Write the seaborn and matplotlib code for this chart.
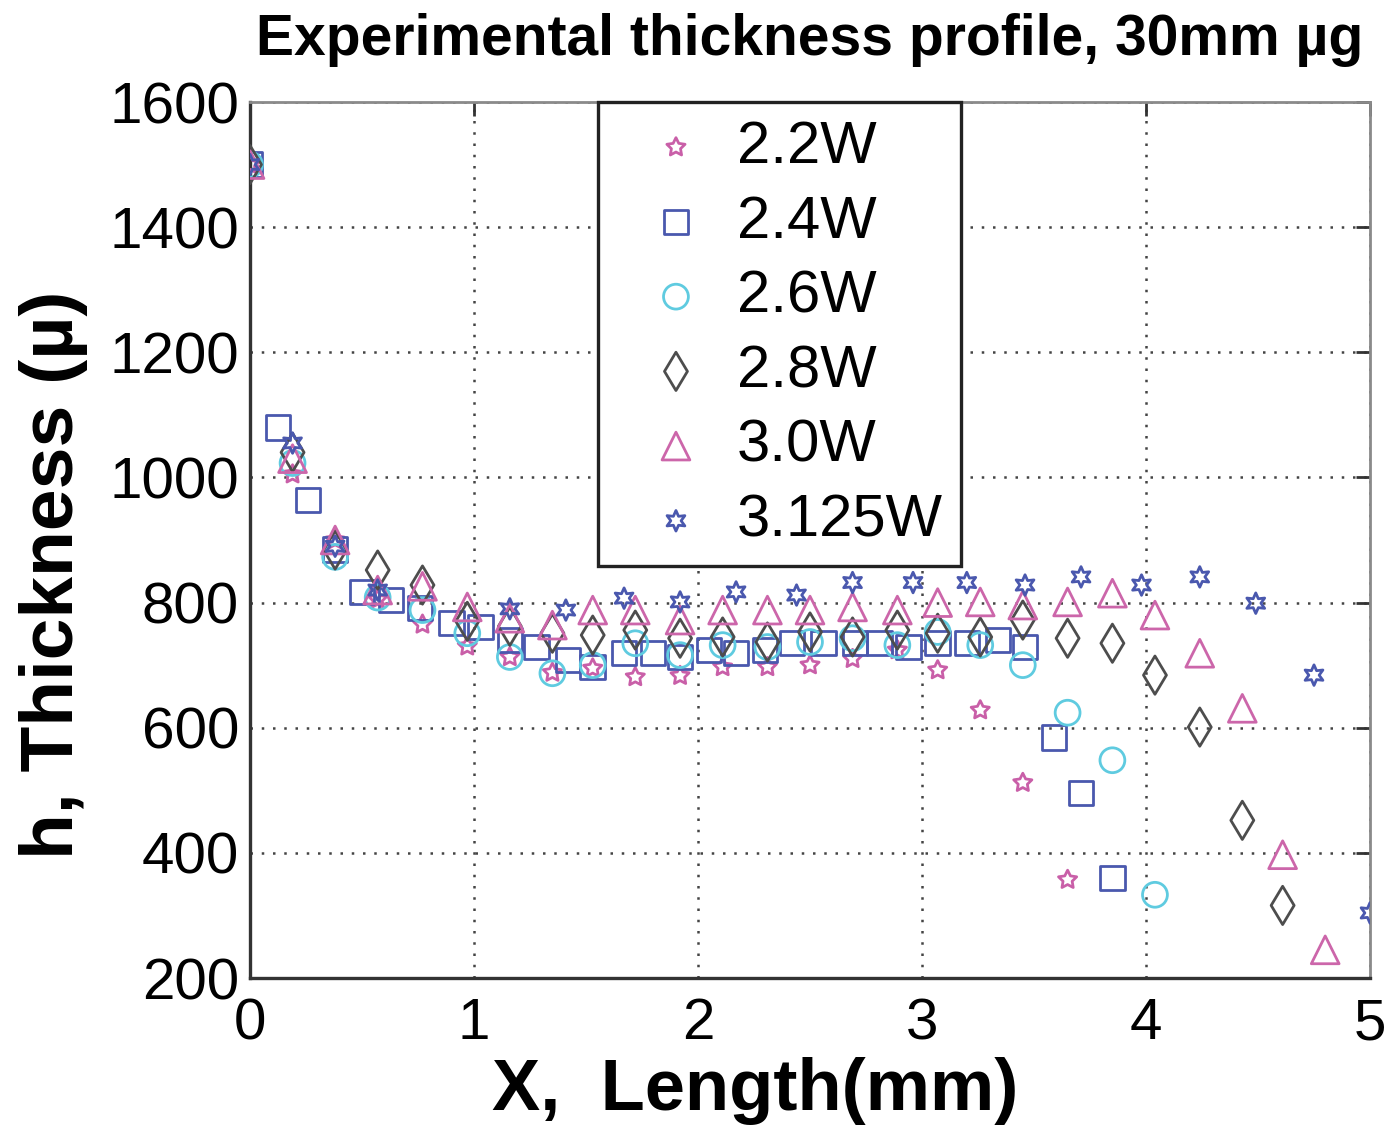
import numpy as np
import pandas as pd
import matplotlib
matplotlib.use("Agg")
import matplotlib.pyplot as plt
import seaborn as sns

# ---------------- data ----------------
series_names = ["2.2W", "2.4W", "2.6W", "2.8W", "3.0W", "3.125W"]

x_22 = [0.00, 0.19, 0.38, 0.57, 0.77, 0.97, 1.16, 1.35, 1.53, 1.72, 1.92, 2.11,
        2.31, 2.50, 2.69, 2.89, 3.07, 3.26, 3.45, 3.65]
h_22 = [1500, 1005, 900, 805, 765, 730, 713, 688, 695, 681, 683, 697,
        697, 700, 710, 724, 692, 628, 512, 357]

x_24 = [0.00, 0.125, 0.26, 0.38, 0.50, 0.63, 0.76, 0.90, 1.03, 1.16, 1.28, 1.42,
        1.53, 1.67, 1.80, 1.92, 2.05, 2.17, 2.30, 2.42, 2.56, 2.70, 2.81, 2.94,
        3.07, 3.20, 3.34, 3.46, 3.59, 3.71, 3.85]
h_24 = [1500, 1080, 964, 885, 817, 804, 791, 767, 761, 740, 729, 708,
        697, 719, 719, 713, 724, 719, 724, 735, 735, 735, 735, 729,
        735, 735, 740, 729, 584, 496, 360]

x_26 = [0.00, 0.19, 0.38, 0.57, 0.77, 0.97, 1.16, 1.35, 1.53, 1.72, 1.92, 2.11,
        2.31, 2.50, 2.69, 2.89, 3.07, 3.26, 3.45, 3.65, 3.85, 4.04]
h_26 = [1500, 1023, 873, 808, 788, 751, 713, 687, 700, 735, 716, 732,
        729, 737, 743, 732, 753, 732, 700, 624, 548, 333]

x_28 = [0.00, 0.19, 0.38, 0.57, 0.77, 0.97, 1.16, 1.35, 1.53, 1.72, 1.92, 2.11,
        2.31, 2.50, 2.69, 2.89, 3.07, 3.26, 3.45, 3.65, 3.85, 4.04, 4.24, 4.43,
        4.61]
h_28 = [1500, 1040, 884, 852, 828, 770, 762, 751, 748, 756, 743, 745,
        737, 753, 745, 756, 751, 745, 772, 743, 735, 684, 601, 452,
        316]

x_30 = [0.00, 0.19, 0.38, 0.57, 0.77, 0.97, 1.16, 1.35, 1.53, 1.72, 1.92, 2.11,
        2.31, 2.50, 2.69, 2.89, 3.07, 3.26, 3.45, 3.65, 3.85, 4.04, 4.24, 4.43,
        4.61, 4.80]
h_30 = [1500, 1030, 900, 820, 826, 793, 775, 764, 788, 788, 772, 788,
        788, 788, 793, 788, 800, 801, 796, 801, 815, 780, 719, 631,
        397, 245]

x_3125 = [0.00, 0.19, 0.38, 0.57, 1.16, 1.41, 1.67, 1.92, 2.17, 2.44, 2.69, 2.96,
          3.20, 3.46, 3.71, 3.98, 4.24, 4.49, 4.75, 5.00]
h_3125 = [1500, 1055, 890, 820, 790, 788, 807, 801, 817, 812, 832, 832,
          832, 828, 841, 828, 841, 799, 684, 304]

x_ticks = [0, 1, 2, 3, 4, 5]
y_ticks = [200, 400, 600, 800, 1000, 1200, 1400, 1600]

frames = []
for name, xs, hs in zip(series_names,
                        [x_22, x_24, x_26, x_28, x_30, x_3125],
                        [h_22, h_24, h_26, h_28, h_30, h_3125]):
    frames.append(pd.DataFrame({"x": xs, "h": hs, "series": name}))
df = pd.concat(frames, ignore_index=True)

# ---------------- style ----------------
sns.set_style("white")
plt.rcParams["font.family"] = ["Liberation Sans", "DejaVu Sans"]
plt.rcParams["text.color"] = "black"
plt.rcParams["axes.labelcolor"] = "black"
plt.rcParams["xtick.color"] = "black"
plt.rcParams["ytick.color"] = "black"

colors = {"2.2W": "#c95fa8", "2.4W": "#4a58ae", "2.6W": "#5fcbe0",
          "2.8W": "#4d4d4d", "3.0W": "#cc66aa", "3.125W": "#4a58ae"}
markers = {"2.2W": (5, 1, 0), "2.4W": "s", "2.6W": "o",
           "2.8W": "d", "3.0W": "^", "3.125W": (6, 1, 0)}
sizes = {"2.2W": 190, "2.4W": 310, "2.6W": 320, "2.8W": 380, "3.0W": 400, "3.125W": 220}

fig = plt.figure(figsize=(13.9, 11.26), dpi=100)
ax = fig.add_axes([250 / 1390, 1 - 978 / 1126, 1120 / 1390, 876 / 1126])

for name in series_names:
    sub = df[df["series"] == name]
    sns.scatterplot(data=sub, x="x", y="h", ax=ax, marker=markers[name],
                    s=sizes[name], color=colors[name], facecolor="none",
                    edgecolor=colors[name], linewidth=2.0, label=name, zorder=3)

ax.set_xlim(0, 5)
ax.set_ylim(200, 1600)
ax.set_xticks(x_ticks)
ax.set_yticks(y_ticks)
ax.set_xticklabels([str(t) for t in x_ticks])
ax.set_yticklabels([str(t) for t in y_ticks])

ax.grid(True, color="#444444", linestyle=(0, (1, 3.5)), linewidth=1.8)
ax.set_axisbelow(True)

ax.tick_params(axis="both", which="major", direction="in", length=10, width=2,
               labelsize=42, colors="#333333", labelcolor="black",
               top=True, right=True)
ax.tick_params(axis="x", pad=14)
ax.tick_params(axis="y", pad=8)

for side in ["left", "bottom"]:
    ax.spines[side].set_color("#333333")
    ax.spines[side].set_linewidth(2.4)
for side in ["top", "right"]:
    ax.spines[side].set_color("#8a8a8a")
    ax.spines[side].set_linewidth(2.0)

ax.set_xlabel("X,  Length(mm)", fontsize=52, fontweight="bold", color="black")
ax.set_ylabel("h, Thickness (\u00b5)", fontsize=54, fontweight="bold", color="black")
ax.xaxis.set_label_coords(0.451, -0.09)
ax.yaxis.set_label_coords(-0.145, 0.46)

ax.set_title("Experimental thickness profile, 30mm \u00b5g", fontsize=41,
             fontweight="bold", pad=34, color="black",
             family=["Liberation Sans Narrow", "Liberation Sans", "DejaVu Sans"])

leg = ax.legend(loc="upper left", bbox_to_anchor=(0.311, 1.0), fontsize=43,
                frameon=True, fancybox=False, shadow=False, framealpha=1,
                edgecolor="#222222", borderpad=0.3, labelspacing=0.33,
                handlelength=2.0, handletextpad=0.02, borderaxespad=0.0,
                markerscale=1.0)
leg.get_frame().set_linewidth(2.4)
for t in leg.get_texts():
    t.set_color("black")

fig.savefig("out.png", dpi=100)
